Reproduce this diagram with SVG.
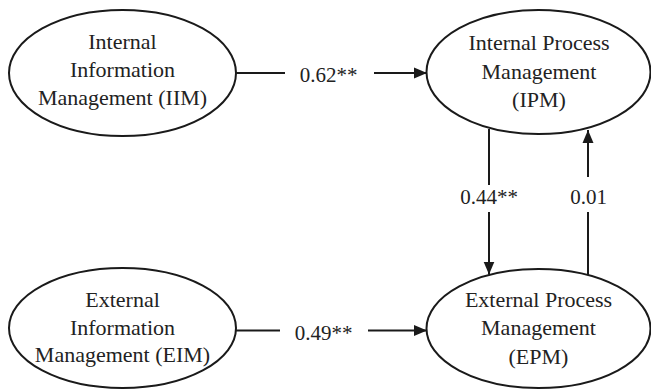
<svg xmlns="http://www.w3.org/2000/svg" width="651" height="389" viewBox="0 0 651 389">
<style>
.node{fill:#fff;stroke:#1a1a1a;stroke-width:2}
.lbl{font-family:"Liberation Serif","Times New Roman",serif;font-size:22px;fill:#222;text-anchor:middle}
.coef{font-family:"Liberation Serif","Times New Roman",serif;font-size:21px;fill:#222;text-anchor:middle}
.edge{fill:none;stroke:#1a1a1a;stroke-width:2}
</style>
<defs>
<marker id="arr" markerUnits="userSpaceOnUse" markerWidth="14" markerHeight="12" refX="13" refY="6" orient="auto">
<path d="M0,0.5 L13,6 L0,11.5 Z" fill="#1a1a1a"/>
</marker>
</defs>
<rect width="651" height="389" fill="#fff"/>
<g id="IIM">
<ellipse class="node" cx="122.5" cy="73" rx="113.5" ry="63"/>
<text class="lbl" x="122.5" y="49">Internal</text>
<text class="lbl" x="122.5" y="77">Information</text>
<text class="lbl" x="122.5" y="105">Management (IIM)</text>
</g>
<g id="IPM">
<ellipse class="node" cx="538.5" cy="72" rx="112" ry="62"/>
<text class="lbl" x="539" y="50">Internal Process</text>
<text class="lbl" x="539" y="78.5">Management</text>
<text class="lbl" x="539" y="106.5">(IPM)</text>
</g>
<g id="EIM">
<ellipse class="node" cx="122.5" cy="328" rx="113.5" ry="60"/>
<text class="lbl" x="122.5" y="306.5">External</text>
<text class="lbl" x="122.5" y="334.5">Information</text>
<text class="lbl" x="122.5" y="362">Management (EIM)</text>
</g>
<g id="EPM">
<ellipse class="node" cx="538.5" cy="328.5" rx="112" ry="59.5"/>
<text class="lbl" x="538.5" y="306.5">External Process</text>
<text class="lbl" x="538.5" y="335">Management</text>
<text class="lbl" x="538.5" y="363.5">(EPM)</text>
</g>
<g id="connectors">
<path class="edge" d="M236,73 H285 M374,73 H427" marker-end="url(#arr)"/>
<path class="edge" d="M236,330.5 H280 M368,330.5 H427" marker-end="url(#arr)"/>
<path class="edge" d="M489,129 V185 M489,212 V274.5" marker-end="url(#arr)"/>
<path class="edge" d="M588,275 V212 M588,177 V130" marker-end="url(#arr)"/>
<text class="coef" x="328.5" y="81.5">0.62**</text>
<text class="coef" x="323.5" y="340">0.49**</text>
<text class="coef" x="489" y="203.5">0.44**</text>
<text class="coef" x="588.5" y="203.5">0.01</text>
</g>
</svg>
